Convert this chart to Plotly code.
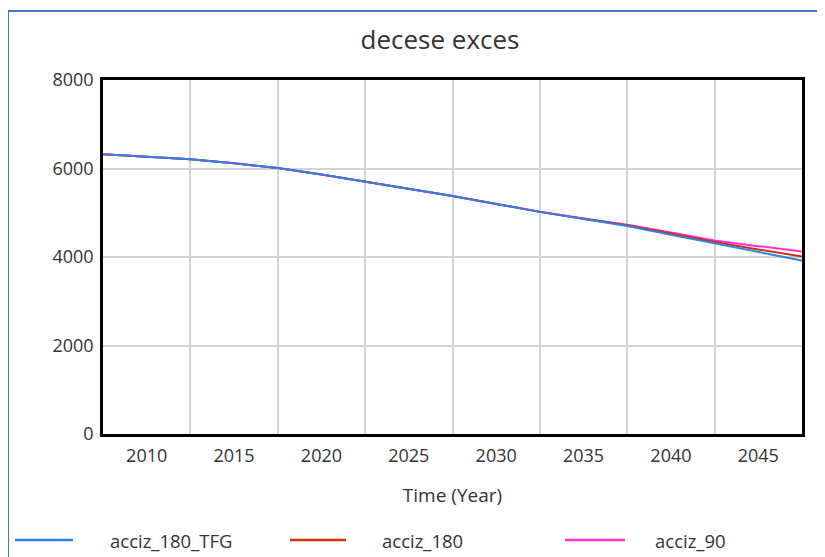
import plotly.graph_objects as go

years = [2007.5, 2010, 2012.5, 2015, 2017.5, 2020, 2022.5, 2025, 2027.5,
         2030, 2032.5, 2035, 2037.5, 2040, 2042.5, 2045, 2047.5]
acciz_180_TFG = [6320, 6270, 6210, 6120, 6010, 5865, 5705, 5545, 5380,
                 5200, 5020, 4860, 4700, 4500, 4305, 4110, 3920]
acciz_180 = [6320, 6270, 6210, 6120, 6010, 5865, 5705, 5545, 5380,
             5200, 5020, 4865, 4715, 4530, 4340, 4170, 4012]
acciz_90 = [6320, 6270, 6210, 6120, 6010, 5865, 5705, 5545, 5380,
            5200, 5022, 4870, 4730, 4555, 4375, 4245, 4125]
x_ticks = [2010, 2015, 2020, 2025, 2030, 2035, 2040, 2045]
y_ticks = [0, 2000, 4000, 6000, 8000]

series_names = ["acciz_180_TFG", "acciz_180", "acciz_90"]
series_colors = ["#2f80ed", "#cc3311", "#ff33cc"]

OFF = 8  # page body margin
W, H = 825 - OFF, 557 - OFF
L, R, T, B = 103 - OFF, 802 - OFF, 80 - OFF, 434 - OFF
font = "Open Sans, DejaVu Sans, sans-serif"

fig = go.Figure()
series_values = [acciz_180_TFG, acciz_180, acciz_90]
for name, vals, col in reversed(list(zip(series_names, series_values, series_colors))):
    fig.add_trace(go.Scatter(x=years, y=vals, name=name, mode="lines",
                             line=dict(color=col, width=2), showlegend=False))


def px_x(p):
    return (p - OFF - L) / (R - L)


def px_y(p):
    return (B - (p - OFF)) / (B - T)


border = "#4a74c9"
fig.add_shape(type="line", xref="paper", yref="paper",
              x0=px_x(8), x1=px_x(8), y0=px_y(11), y1=px_y(560),
              line=dict(color=border, width=2))
fig.add_shape(type="line", xref="paper", yref="paper",
              x0=px_x(8), x1=px_x(830), y0=px_y(11), y1=px_y(11),
              line=dict(color=border, width=2))

# legend (drawn manually to match the original layout)
leg_y = 540
leg_lines = [(15, 73, 108), (290, 346, 380), (565, 625, 653)]
for (x0, x1, tx), name, col in zip(leg_lines, series_names, series_colors):
    fig.add_shape(type="line", xref="paper", yref="paper",
                  x0=px_x(x0), x1=px_x(x1), y0=px_y(leg_y), y1=px_y(leg_y),
                  line=dict(color=col, width=2.5))
    fig.add_annotation(xref="paper", yref="paper", x=px_x(tx), y=px_y(leg_y),
                       xanchor="left", yanchor="middle", text=name, showarrow=False,
                       font=dict(size=18.5, color="#333333"))

fig.update_layout(
    width=W, height=H,
    margin=dict(l=L, r=W - R, t=T, b=H - B, autoexpand=False),
    paper_bgcolor="white", plot_bgcolor="white",
    font=dict(family=font, size=18, color="#333333"),
    title=dict(text="decese exces", x=(440 - OFF) / W, xanchor="center",
               y=1 - (40 - OFF) / H, yanchor="middle",
               font=dict(size=26, color="#333333")),
    showlegend=False,
    xaxis=dict(range=[2007.5, 2047.5], tickvals=x_ticks, showgrid=False,
               ticks="", showline=True, linecolor="black", linewidth=2.5, mirror=True,
               zeroline=False, ticklabelstandoff=4,
               minor=dict(tick0=2012.5, dtick=5, showgrid=True,
                          gridcolor="#d4d4d4", gridwidth=1.5, ticks=""),
               title=dict(text="Time (Year)", standoff=23, font=dict(size=19)),
               tickfont=dict(size=18)),
    yaxis=dict(range=[0, 8000], tickvals=y_ticks, showgrid=True,
               gridcolor="#d4d4d4", gridwidth=1.5, ticks="",
               showline=True, linecolor="black", linewidth=2.5, mirror=True,
               zeroline=False, ticklabelstandoff=3, tickfont=dict(size=18)),
)

fig.write_html("out.html")
